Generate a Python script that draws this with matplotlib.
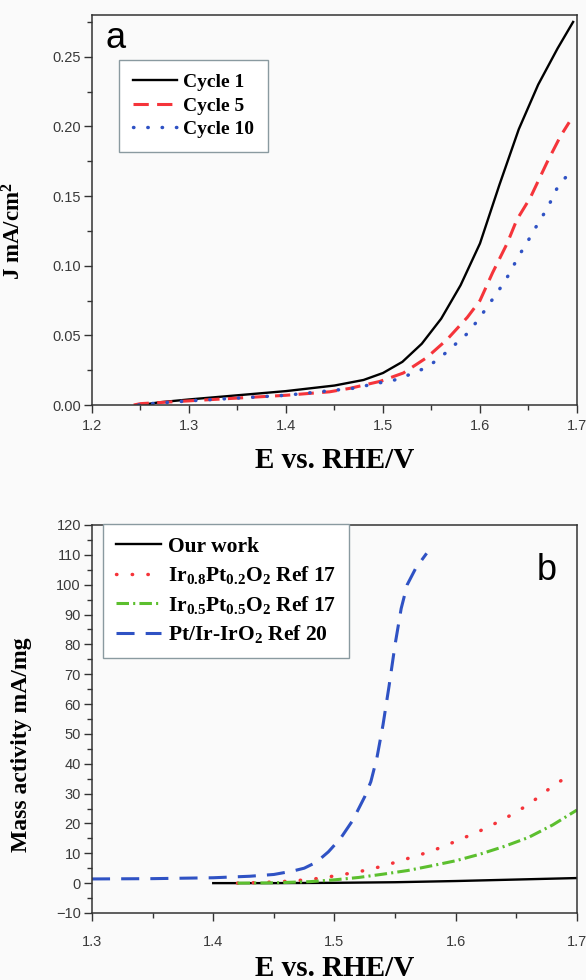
import matplotlib
matplotlib.use("Agg")
import matplotlib.pyplot as plt
from matplotlib.ticker import MultipleLocator

plt.rcParams["font.family"] = ["Liberation Sans", "DejaVu Sans"]
plt.rcParams["mathtext.fontset"] = "custom"
plt.rcParams["mathtext.rm"] = "Liberation Serif:bold"
plt.rcParams["mathtext.it"] = "Liberation Serif:bold"
plt.rcParams["mathtext.bf"] = "Liberation Serif:bold"
plt.rcParams["lines.scale_dashes"] = False

# Panel a: current density over cycles
e_c1 = [1.25, 1.27, 1.30, 1.35, 1.40, 1.45, 1.48, 1.50, 1.52, 1.54, 1.56, 1.58,
        1.60, 1.62, 1.64, 1.66, 1.68, 1.696]
j_c1 = [0.0, 0.002, 0.004, 0.007, 0.010, 0.014, 0.018, 0.023, 0.031, 0.044, 0.062,
        0.086, 0.116, 0.158, 0.198, 0.230, 0.256, 0.275]

e_c5 = [1.243, 1.25, 1.30, 1.35, 1.40, 1.445, 1.466, 1.497, 1.521, 1.545, 1.566,
        1.587, 1.600, 1.613, 1.628, 1.638, 1.652, 1.669, 1.683, 1.692]
j_c5 = [0.0, 0.001, 0.003, 0.005, 0.007, 0.0095, 0.012, 0.017, 0.023, 0.034, 0.047,
        0.063, 0.075, 0.095, 0.116, 0.133, 0.149, 0.174, 0.193, 0.203]

e_c10 = [1.248, 1.25, 1.30, 1.35, 1.40, 1.469, 1.497, 1.512, 1.528, 1.545, 1.559,
         1.572, 1.588, 1.600, 1.610, 1.620, 1.631, 1.639, 1.648, 1.657, 1.670,
         1.679, 1.690]
j_c10 = [0.0, 0.0005, 0.003, 0.005, 0.007, 0.012, 0.016, 0.018, 0.022, 0.027, 0.034,
         0.042, 0.052, 0.063, 0.073, 0.083, 0.095, 0.106, 0.116, 0.127, 0.142,
         0.155, 0.165]

# Panel b: mass activity comparison
e_our = [1.40, 1.45, 1.50, 1.55, 1.60, 1.65, 1.70]
m_our = [0.0, 0.0, 0.1, 0.3, 0.7, 1.2, 1.7]

e_ir82 = [1.42, 1.44, 1.46, 1.48, 1.50, 1.52, 1.54, 1.56, 1.58, 1.60, 1.62, 1.64,
          1.66, 1.68, 1.695]
m_ir82 = [0.0, 0.2, 0.6, 1.2, 2.4, 3.8, 5.7, 8.2, 10.7, 14.0, 17.5, 21.5, 26.3,
          32.5, 36.5]

e_ir55 = [1.42, 1.45, 1.48, 1.50, 1.52, 1.54, 1.56, 1.58, 1.60, 1.62, 1.64, 1.66,
          1.68, 1.70]
m_ir55 = [0.0, 0.1, 0.5, 1.1, 1.9, 3.0, 4.2, 5.8, 7.5, 9.7, 12.3, 15.3, 19.5, 24.5]

e_ptir = [1.30, 1.35, 1.40, 1.43, 1.45, 1.465, 1.475, 1.485, 1.495, 1.505, 1.515,
          1.525, 1.53, 1.535, 1.54, 1.545, 1.55, 1.555, 1.56, 1.567, 1.576]
m_ptir = [1.4, 1.5, 1.8, 2.3, 2.9, 4.0, 5.0, 7.0, 10.5, 15.0, 21.0, 29.0, 34.0,
          42.0, 53.0, 66.0, 80.0, 92.0, 100.0, 105.5, 110.5]

BG = "#fafafa"
AX_C = "#333333"
RED = "#f5343a"
BLUE = "#2f52c4"
GREEN = "#5cbf2e"
SERIF = "Liberation Serif"

fig = plt.figure(figsize=(5.86, 9.8), dpi=100, facecolor=BG)
ax_a = fig.add_axes([0.157, 0.5867, 0.8276, 0.398])
ax_b = fig.add_axes([0.157, 0.0684, 0.8276, 0.3959])


def style_axis(ax):
    ax.set_facecolor(BG)
    for sp in ax.spines.values():
        sp.set_linewidth(1.1)
        sp.set_color(AX_C)
    ax.tick_params(which="both", direction="out", colors=AX_C, labelcolor="#3a3a3a",
                   labelsize=10.5, top=False, right=False)
    ax.tick_params(which="major", length=6, width=1.0, pad=2)
    ax.tick_params(which="minor", length=3.5, width=1.0)


# ---- panel a
ax_a.plot(e_c1, j_c1, color="black", lw=1.7, label="Cycle 1")
ax_a.plot(e_c5, j_c5, color=RED, lw=2.2, dashes=(11, 6), label="Cycle 5")
ax_a.plot(e_c10, j_c10, color=BLUE, lw=2.5, dashes=(0.3, 10),
          dash_capstyle="round", label="Cycle 10")
ax_a.set_xlim(1.2, 1.7)
ax_a.set_ylim(0, 0.28)
ax_a.xaxis.set_major_locator(MultipleLocator(0.1))
ax_a.xaxis.set_minor_locator(MultipleLocator(0.05))
ax_a.yaxis.set_major_locator(MultipleLocator(0.05))
ax_a.yaxis.set_minor_locator(MultipleLocator(0.025))
ax_a.set_yticks([0, 0.05, 0.10, 0.15, 0.20, 0.25])
ax_a.set_yticklabels(["0.00", "0.05", "0.10", "0.15", "0.20", "0.25"])
style_axis(ax_a)
ax_a.tick_params(axis="x", which="major", pad=4)
ax_a.set_xlabel("E vs. RHE/V", family=SERIF, weight="bold", fontsize=21, labelpad=10)
ax_a.set_ylabel("J mA/cm$^{2}$", family=SERIF, weight="bold", fontsize=16.5)
ax_a.yaxis.set_label_coords(-0.138, 0.446)
ax_a.text(0.027, 0.915, "a", transform=ax_a.transAxes, fontsize=26, va="baseline")
leg_a = ax_a.legend(loc="upper left", bbox_to_anchor=(0.0557, 0.885), borderaxespad=0,
                    prop={"family": SERIF, "weight": "bold", "size": 14},
                    fancybox=False, edgecolor="#8a9aa0", framealpha=1, facecolor="white",
                    handlelength=2.3, handletextpad=0.3, labelspacing=0.3,
                    borderpad=0.7)
leg_a.get_frame().set_linewidth(1.0)

# ---- panel b
ax_b.plot(e_our, m_our, color="black", lw=1.7, label="Our work")
ax_b.plot(e_ir82, m_ir82, color=RED, lw=2.5, dashes=(0.3, 11),
          dash_capstyle="round", label="Ir$_{0.8}$Pt$_{0.2}$O$_{2}$ Ref 17")
ax_b.plot(e_ir55, m_ir55, color=GREEN, lw=2.2, dashes=(9, 3, 1.5, 3),
          label="Ir$_{0.5}$Pt$_{0.5}$O$_{2}$ Ref 17")
ax_b.plot(e_ptir, m_ptir, color=BLUE, lw=2.2, dashes=(13, 8),
          label="Pt/Ir-IrO$_{2}$ Ref 20")
ax_b.set_xlim(1.3, 1.7)
ax_b.set_ylim(-10, 120)
ax_b.xaxis.set_major_locator(MultipleLocator(0.1))
ax_b.xaxis.set_minor_locator(MultipleLocator(0.05))
ax_b.yaxis.set_major_locator(MultipleLocator(10))
ax_b.yaxis.set_minor_locator(MultipleLocator(5))
style_axis(ax_b)
ax_b.tick_params(axis="x", which="major", pad=10)
ax_b.set_xlabel("E vs. RHE/V", family=SERIF, weight="bold", fontsize=21, labelpad=4)
ax_b.set_ylabel("Mass activity mA/mg", family=SERIF, weight="bold", fontsize=17)
ax_b.yaxis.set_label_coords(-0.124, 0.433)
ax_b.text(0.918, 0.858, "b", transform=ax_b.transAxes, fontsize=26, va="baseline")
leg_b = ax_b.legend(loc="upper left", bbox_to_anchor=(0.0227, 1.003), borderaxespad=0,
                    prop={"family": SERIF, "weight": "bold", "size": 15.5},
                    fancybox=False, edgecolor="#8a9aa0", framealpha=1, facecolor="white",
                    handlelength=2.1, handletextpad=0.3, labelspacing=0.35,
                    borderpad=0.6)
leg_b.get_frame().set_linewidth(1.0)

fig.savefig("out.png", dpi=100, facecolor=BG)
